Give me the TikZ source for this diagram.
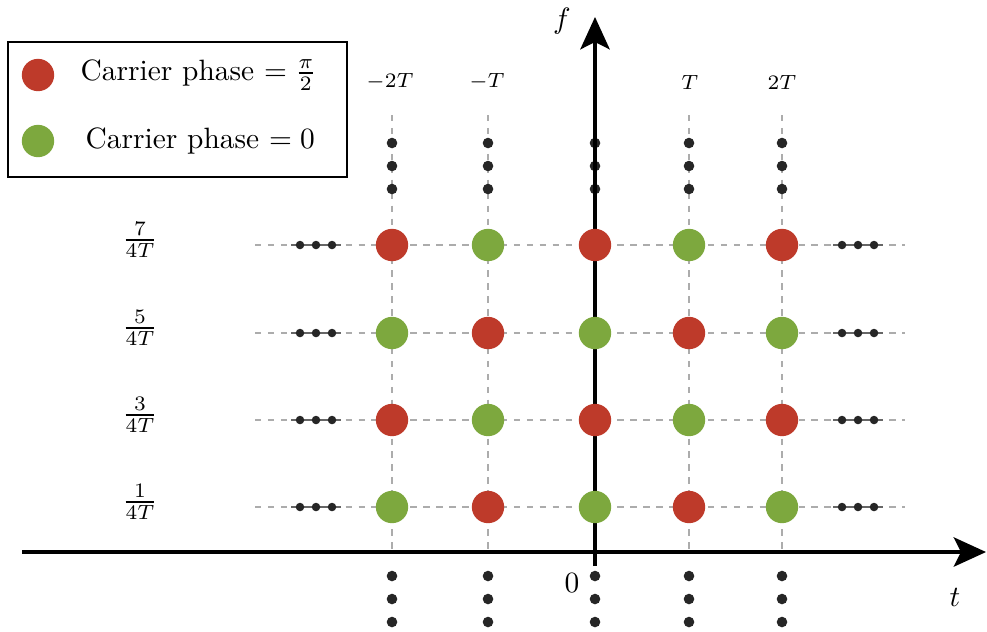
\documentclass[tikz,border=0pt]{standalone}
\usepackage{amsmath}
\usetikzlibrary{arrows.meta}
\definecolor{cred}{RGB}{190,58,42}
\definecolor{cgreen}{RGB}{125,168,62}
\tikzset{
  redpt/.style={circle,fill=cred,inner sep=0pt,minimum size=11pt},
  greenpt/.style={circle,fill=cgreen,inner sep=0pt,minimum size=11pt},
  bigdot/.style={circle,fill=black!85,inner sep=0pt,minimum size=3.6pt},
  smalldot/.style={circle,fill=black!85,inner sep=0pt,minimum size=2.9pt},
  gridline/.style={gray!65,dash pattern=on 2.2pt off 2.2pt,line width=0.5pt},
  dotline/.style={black!60,line width=0.5pt},
  axisline/.style={line width=1.1pt,-{Stealth[length=11pt,width=10pt,inset=2.5pt]}},
  toplabel/.style={font=\scriptsize},
  fraclabel/.style={font=\normalsize},
}
\begin{document}
\begin{tikzpicture}[x=0.34pt,y=-0.34pt]
\useasboundingbox (0,0) rectangle (987,631);
% grid lines
\foreach \n/\x in {m2/392,m1/488,z/595,p1/689,p2/782}{
  \coordinate (top\n) at (\x,115);
  \coordinate (bot\n) at (\x,552);
  \draw[gridline] (top\n) -- (bot\n);
}
\foreach \n/\y in {r7/245,r5/333,r3/420,r1/507}{
  \coordinate (L\n) at (255,\y);
  \coordinate (R\n) at (905,\y);
  \draw[gridline] (L\n) -- (R\n);
}
% vertical continuation dots (top and bottom)
\foreach \n/\x in {m2/392,m1/488,z/595,p1/689,p2/782}{
  \node[bigdot] (ta\n) at (\x,143) {};
  \node[bigdot] (tb\n) at (\x,166) {};
  \node[bigdot] (tc\n) at (\x,189) {};
  \node[bigdot] (ba\n) at (\x,576) {};
  \node[bigdot] (bb\n) at (\x,599) {};
  \node[bigdot] (bc\n) at (\x,622) {};
}
% horizontal continuation dots
\foreach \n/\y in {r7/245,r5/333,r3/420,r1/507}{
  \coordinate (la\n) at (291,\y);
  \coordinate (lz\n) at (341,\y);
  \draw[dotline] (la\n) -- (lz\n);
  \node[smalldot] (l1\n) at (300,\y) {};
  \node[smalldot] (l2\n) at (316,\y) {};
  \node[smalldot] (l3\n) at (332,\y) {};
  \coordinate (ra\n) at (833,\y);
  \coordinate (rz\n) at (883,\y);
  \draw[dotline] (ra\n) -- (rz\n);
  \node[smalldot] (r1\n) at (842,\y) {};
  \node[smalldot] (r2\n) at (858,\y) {};
  \node[smalldot] (r3\n) at (874,\y) {};
}
% axes
\coordinate (tstart) at (22,552);
\coordinate (tend) at (986,552);
\coordinate (fstart) at (595,566);
\coordinate (fend) at (595,17);
\draw[axisline] (tstart) -- (tend);
\draw[axisline] (fstart) -- (fend);
% lattice points
\foreach \n/\x/\a/\b in {m2/392/redpt/greenpt,m1/488/greenpt/redpt,z/595/redpt/greenpt,p1/689/greenpt/redpt,p2/782/redpt/greenpt}{
  \node[\a] (p7\n) at (\x,245) {};
  \node[\b] (p5\n) at (\x,333) {};
  \node[\a] (p3\n) at (\x,420) {};
  \node[\b] (p1\n) at (\x,507) {};
}
% axis labels
\node (flab) at (562,21) {$f$};
\node (tlab) at (955,597) {$t$};
\node (zlab) at (572,583) {$0$};
\node[toplabel] (lm2) at (390,82) {$-2T$};
\node[toplabel] (lm1) at (487,82) {$-T$};
\node[toplabel] (lp1) at (690,82) {$T$};
\node[toplabel] (lp2) at (782,82) {$2T$};
\node[fraclabel] (q7) at (140,240) {$\frac{7}{4T}$};
\node[fraclabel] (q5) at (140,328) {$\frac{5}{4T}$};
\node[fraclabel] (q3) at (140,415) {$\frac{3}{4T}$};
\node[fraclabel] (q1) at (140,502) {$\frac{1}{4T}$};
% legend
\node[draw,line width=0.8pt,minimum width=115.3pt,minimum height=45.9pt,inner sep=0pt] (legend) at (177.5,109.5) {};
\node[redpt] (legred) at (38,75) {};
\node[greenpt] (leggreen) at (38,141) {};
\node[anchor=west,inner sep=0pt] (legredtext) at (80,75) {Carrier phase $=\frac{\pi}{2}$};
\node[anchor=west,inner sep=0pt] (leggreentext) at (85,141) {Carrier phase $=0$};
\end{tikzpicture}
\end{document}
